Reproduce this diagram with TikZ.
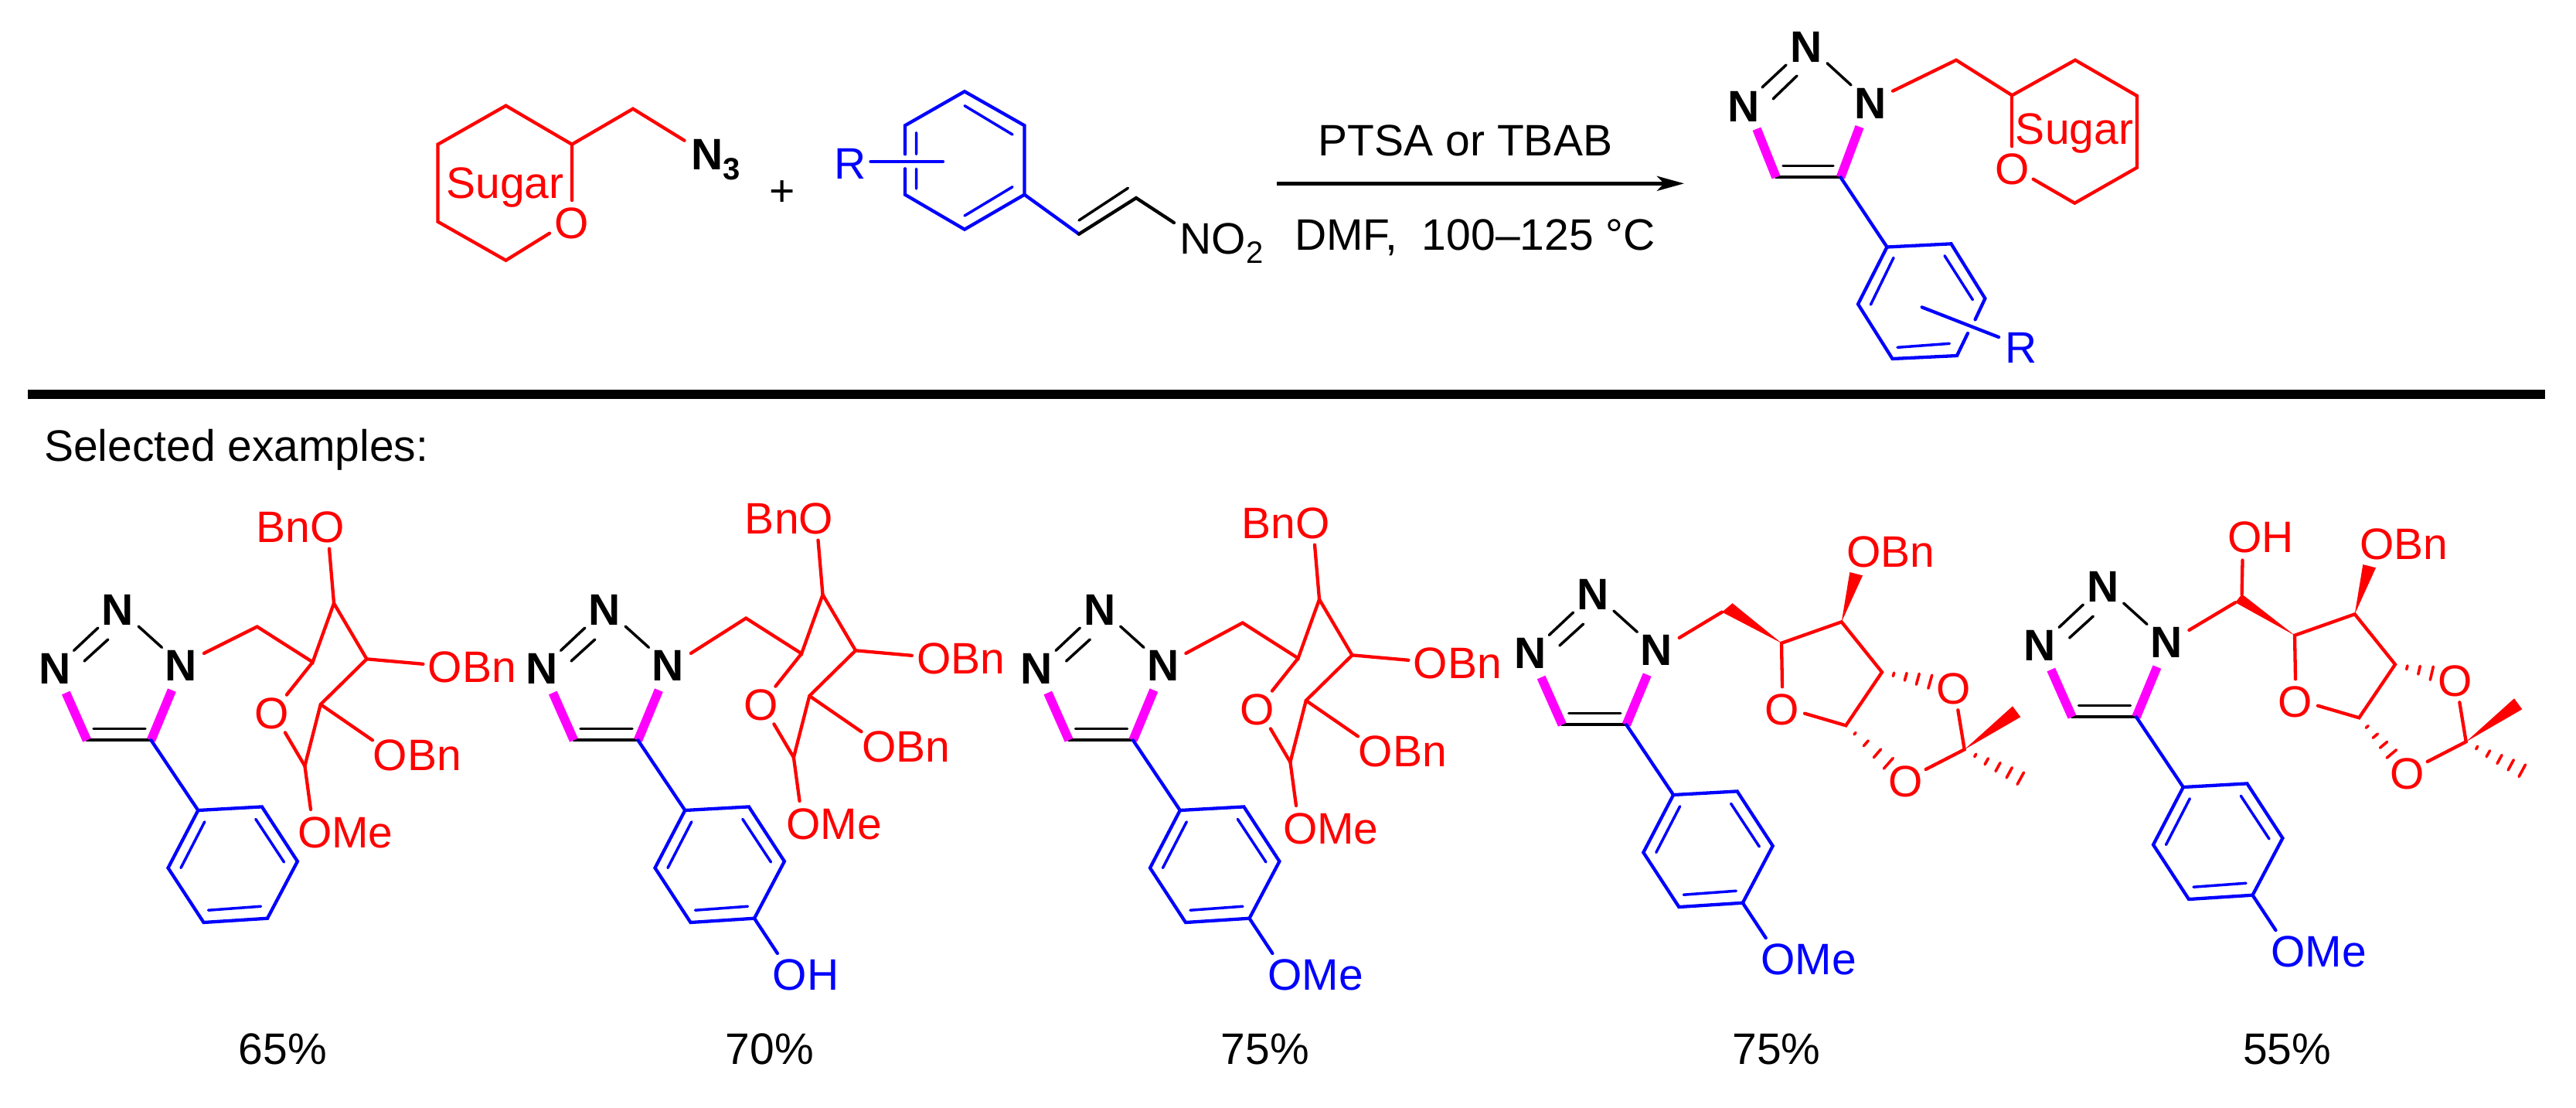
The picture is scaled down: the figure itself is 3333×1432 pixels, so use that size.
\documentclass[tikz,border=0pt]{standalone}
\usepackage{fontspec}
\setmainfont{Liberation Sans}
\usetikzlibrary{arrows.meta}
\definecolor{cred}{HTML}{FF0000}
\definecolor{cblue}{HTML}{0000FF}
\definecolor{cmag}{HTML}{FF00FF}
\tikzset{
  x=0.5pt,y=-0.5pt,
  bond/.style={line width=2.15pt,line cap=round,line join=miter},
  redb/.style={bond,draw=cred},
  blueb/.style={bond,draw=cblue},
  blackb/.style={bond,draw=black},
  bluei/.style={line width=1.75pt,line cap=round,draw=cblue},
  blacki/.style={line width=1.75pt,line cap=round,draw=black},
  magb/.style={line width=5.8pt,line cap=butt,draw=cmag},
  hashb/.style={line width=1.8pt,line cap=round,draw=cred},
  wedge/.style={fill=cred,draw=none},
  lab/.style={inner sep=0pt,outer sep=0pt,anchor=base,font=\fontsize{28.5}{34}\selectfont},
  bld/.style={lab,font=\fontsize{28.5}{34}\selectfont\bfseries},
  rlab/.style={lab,text=cred},
  blab/.style={lab,text=cblue}
}
% triazole + aryl, base coordinates = third compound
\newcommand{\triazAryl}[3]{%
\begin{scope}[shift={(#1,#2)}]
  \node[bld] (#3Nt) at (1422.8,808) {N};
  \node[bld] (#3Nl) at (1341.5,884) {N};
  \node[bld] (#3Nr) at (1505,880) {N};
  \coordinate (#3ex) at (1534.4,844.9);
  \coordinate (#3C4) at (1383,957.3);
  \coordinate (#3C5) at (1466,957.3);
  \coordinate (#3a1) at (1526.8,1048);
  \coordinate (#3a2) at (1609.4,1043.4);
  \coordinate (#3a3) at (1655.4,1114);
  \coordinate (#3a4) at (1616.5,1187.7);
  \coordinate (#3a5) at (1534,1193);
  \coordinate (#3a6) at (1488,1122.5);
  \draw[blacki] (1366,841.4)--(1397.3,812) (1379.5,855)--(1410.3,827) (1449.6,810)--(1480,837.4);
  \draw[blackb] (#3C4)--(#3C5);
  \draw[blacki] (1391.5,942.4)--(1458.5,942.4);
  \draw[magb] (1355.8,896)--(#3C4) (1492.9,892.6)--(#3C5);
  \draw[blueb] (#3C5)--(#3a1);
  \draw[blueb] (#3a1)--(#3a2)--(#3a3)--(#3a4)--(#3a5)--(#3a6)--cycle;
  \draw[bluei] (1535.3,1062.8)--(1504.5,1122.5) (1601.3,1059.3)--(1638,1115) (1540,1177.2)--(1608,1172.2);
\end{scope}}
\newcommand{\paraSub}[5]{%
\begin{scope}[shift={(#1,#2)}]
  \coordinate (#3s) at (1646.4,1233);
  \draw[blueb] (#3a4)--(#3s);
  \node[blab] (#3sub) at (#4,1280) {#5};
\end{scope}}
% pyranose, base coordinates = first compound
\newcommand{\pyranose}[3]{%
\begin{scope}[shift={(#1,#2)}]
  \coordinate (#3m) at (332.7,810.5);
  \coordinate (#3c5) at (404.6,856.3);
  \coordinate (#3c4) at (432,780.2);
  \coordinate (#3c3) at (474.5,852.3);
  \coordinate (#3c2) at (414.8,911);
  \coordinate (#3c1) at (394.4,990.6);
  \node[rlab] (#3O) at (352,942) {O};
  \node[rlab] (#3Oa) at (388.5,701) {BnO};
  \node[rlab] (#3Ob) at (611,882.7) {OBn};
  \node[rlab] (#3Oc) at (540,996.6) {OBn};
  \node[rlab] (#3Od) at (446.8,1096) {OMe};
  \draw[redb] (#3m)--(#3c5)--(#3c4)--(#3c3)--(#3c2)--(#3c1);
  \draw[redb] (#3c5)--(370.9,898.6) (368.9,947.4)--(#3c1);
  \draw[redb] (#3c4)--(426,709.6) (#3c3)--(547.4,858.8) (#3c2)--(482,957.3) (#3c1)--(402,1046.9);
\end{scope}}
% furanose ring, base coordinates = fourth compound
\newcommand{\furanose}[3]{%
\begin{scope}[shift={(#1,#2)}]
  \coordinate (#3c5) at (2305,831.7);
  \coordinate (#3c4) at (2382.7,804.3);
  \coordinate (#3c3) at (2435,869.3);
  \coordinate (#3c2) at (2388.3,938.3);
  \node[rlab] (#3O) at (2306,937.5) {O};
  \node[rlab] (#3Ob) at (2446.4,733.4) {OBn};
  \draw[redb] (2306,888.3)--(#3c5)--(#3c4)--(#3c3)--(#3c2)--(2335,922.7);
  \path[wedge] (#3c4)--(2393.3,740)--(2410,744.3)--cycle;
\end{scope}}
% dioxolane part, base coordinates = fourth compound
\newcommand{\dioxolane}[3]{%
\begin{scope}[shift={(#1,#2)}]
  \coordinate (#3ac) at (2541.7,969.3);
  \node[rlab] (#3Ou) at (2527.3,910) {O};
  \node[rlab] (#3Ol) at (2465.7,1030) {O};
  \draw[redb] (2533.3,918.3)--(#3ac)--(2491.7,995);
  \path[wedge] (#3ac)--(2604,913.3)--(2614.3,927.3)--cycle;
  \draw[hashb] (2555.7,977)+(1,-1.8)--+(-1,1.8);
  \draw[hashb] (2570.3,984.7)+(2.2,-3.9)--+(-2.2,3.9);
  \draw[hashb] (2585,992)+(3,-5.5)--+(-3,5.5);
  \draw[hashb] (2599.7,999.3)+(3.6,-6.6)--+(-3.6,6.6);
  \draw[hashb] (2614.3,1006.7)+(4.2,-7.7)--+(-4.2,7.7);
\end{scope}}
\begin{document}
\begin{tikzpicture}
\path[fill=white,use as bounding box] (0,0) rectangle (3333,1432);
% ---- left reactant
\coordinate (sa) at (654.5,136.7);
\coordinate (sb) at (566.5,186.7);
\coordinate (sc) at (566.5,286.7);
\coordinate (sd) at (654.5,336.7);
\coordinate (se) at (740,186.7);
\coordinate (sf) at (819,140.7);
\node[rlab] (sugarL) at (653.5,256) {Sugar};
\node[rlab] (sOL) at (740,308) {O};
\node[bld,anchor=base west] (azide) at (894.5,219) {N\raisebox{-6.85pt}{\fontsize{20}{24}\selectfont 3}};
\draw[redb] (711,301.7)--(sd)--(sc)--(sb)--(sa)--(se)--(740,259);
\draw[redb] (se)--(sf)--(885.5,181.7);
\node[lab] (plus) at (1012,266) {+};
% ---- nitrostyrene
\coordinate (ba) at (1248,118.3);
\coordinate (bb) at (1325.5,162.3);
\coordinate (bc) at (1325.5,251.7);
\coordinate (bd) at (1248,296.7);
\coordinate (be) at (1171,251.7);
\coordinate (bf) at (1171,162.3);
\coordinate (va) at (1396,302.7);
\coordinate (vb) at (1470,256);
\node[blab] (rL) at (1100,231.7) {R};
\node[lab,anchor=base west] (nitro) at (1526.5,328) {NO\raisebox{-6pt}{\fontsize{20}{24}\selectfont 2}};
\draw[blueb] (1171,199.3)--(bf)--(ba)--(bb)--(bc)--(bd)--(be)--(1171,218.3);
\draw[bluei] (1248,136.7)--(1310,174) (1310,241.7)--(1248,279) (1185.5,171.7)--(1185.5,199.3) (1185.5,218.3)--(1185.5,244);
\draw[blueb] (1126.5,209)--(1220,209);
\draw[blueb] (bc)--(va);
\draw[blackb] (va)--(vb)--(1519,288);
\draw[blacki] (1396,285)--(1459.4,243.3);
% ---- arrow
\coordinate (arS) at (1652,237.3);
\coordinate (arE) at (2179,237.3);
\draw[line width=2.5pt,-{Stealth[length=17.5pt,width=9.5pt,inset=4.5pt]}] (arS)--(arE);
\node[lab] (cond1) at (1896,201.7) {PTSA or TBAB};
\node[lab] (cond2) at (1908.5,323) {DMF,\ \ 100–125 °C};
% ---- product
\node[bld] (pNt) at (2337.5,80) {N};
\node[bld] (pNl) at (2256.5,157) {N};
\node[bld] (pNr) at (2420,153) {N};
\coordinate (pC4) at (2298,229.3);
\coordinate (pC5) at (2381.5,229.3);
\coordinate (pa1) at (2441.5,319.5);
\coordinate (pa2) at (2524.5,315.3);
\coordinate (pa3) at (2568.4,386);
\coordinate (pa4) at (2532,460);
\coordinate (pa5) at (2448.5,464);
\coordinate (pa6) at (2404,393.3);
\draw[blacki] (2280,113)--(2311,84) (2294,128)--(2325,98) (2364,81.7)--(2395,110);
\draw[blackb] (pC4)--(pC5);
\draw[blacki] (2307,214.3)--(2372,214.3);
\draw[magb] (2273,166.7)--(pC4) (2406,164)--(pC5);
\draw[blueb] (pC5)--(pa1);
\draw[blueb] (2555.6,413.3)--(pa3)--(pa2)--(pa1)--(pa6)--(pa5)--(pa4)--(2546,431);
\draw[bluei] (2450,333.3)--(2420.4,394) (2516,330.7)--(2552.4,387.7) (2455,449.3)--(2522.4,444.3);
\draw[blueb] (2486.7,397.3)--(2586,436);
\node[blab] (rR) at (2615,469.3) {R};
\coordinate (qa) at (2531,77.7);
\coordinate (qb) at (2603.3,123.3);
\coordinate (qc) at (2685,77.7);
\coordinate (qd) at (2765,124);
\coordinate (qe) at (2765,216.7);
\coordinate (qf) at (2684.3,262.7);
\node[rlab] (sugarR) at (2684,186) {Sugar};
\node[rlab] (sOR) at (2603.3,238.7) {O};
\draw[redb] (2449,117.7)--(qa)--(qb)--(qc)--(qd)--(qe)--(qf)--(2630.7,231.7);
\draw[redb] (qb)--(2603.3,189.3);
% ---- rule and heading
\coordinate (ruleL) at (36,510);
\coordinate (ruleR) at (3293,510);
\draw[line width=6.3pt] (ruleL)--(ruleR);
\node[lab,anchor=base west] (selex) at (57,596) {Selected examples:};
% ---- compound 1
\triazAryl{-1270.5}{0}{A}
\pyranose{0}{0}{F}
\draw[redb] (Aex)--(Fm);
\node[lab] (y1) at (366,1376) {65\%};
% ---- compound 2
\triazAryl{-640.5}{0}{B}
\paraSub{-640.5}{0}{B}{1683}{OH}
\pyranose{632.5}{-11}{G}
\draw[redb] (Bex)--(Gm);
\node[lab] (y2) at (996,1376) {70\%};
% ---- compound 3
\triazAryl{0}{0}{C}
\paraSub{0}{0}{C}{1702}{OMe}
\pyranose{1275}{-5}{H}
\draw[redb] (Cex)--(Hm);
\node[lab] (y3) at (1637,1376) {75\%};
% ---- compound 4
\triazAryl{638.3}{-20}{D}
\paraSub{638.3}{-20}{D}{1702}{OMe}
\furanose{0}{0}{J}
\dioxolane{0}{0}{K}
\coordinate (Jm) at (2228,791.6);
\draw[redb] (Dex)--(Jm);
\path[wedge] (Jm)--(2241.5,780.2)--(Jc5)--cycle;
\draw[hashb] (2450,872.3)+(.6,-2.2)--+(-.6,2.2);
\draw[hashb] (2465.7,875.3)+(1.3,-4.8)--+(-1.3,4.8);
\draw[hashb] (2481.3,878.3)+(1.9,-7)--+(-1.9,7);
\draw[hashb] (2497.3,881.7)+(2.4,-8.6)--+(-2.4,8.6);
\draw[hashb] (2400,948.7)+(1,-1.2)--+(-1,1.2);
\draw[hashb] (2414.3,961.3)+(3,-3.4)--+(-3,3.4);
\draw[hashb] (2429,974.3)+(4.6,-5.3)--+(-4.6,5.3);
\draw[hashb] (2443.3,987.3)+(6,-6.8)--+(-6,6.8);
\node[lab] (y4) at (2298.5,1376) {75\%};
% ---- compound 5
\triazAryl{1298}{-30}{E}
\paraSub{1298}{-30}{E}{1702}{OMe}
\furanose{664}{-10}{L}
\dioxolane{649}{-10}{M}
\coordinate (Lm) at (2892.2,779.2);
\coordinate (Lh) at (2900.6,768.3);
\draw[redb] (Eex)--(Lm);
\path[wedge] (Lm)--(Lh)--(Lc5)--cycle;
\node[rlab] (oh5) at (2925,714.5) {OH};
\draw[redb] (Lh)--(2901.5,724.5);
\draw[hashb] (3114.3,863.3)+(.6,-2.4)--+(-.6,2.4);
\draw[hashb] (3130,866.7)+(1.2,-5.3)--+(-1.2,5.3);
\draw[hashb] (3146.3,870.7)+(2,-8.6)--+(-2,8.6);
\draw[hashb] (3062.7,940)+(1.5,-1.3)--+(-1.5,1.3);
\draw[hashb] (3073.3,951.7)+(3.1,-2.6)--+(-3.1,2.6);
\draw[hashb] (3084,963.3)+(4.6,-3.9)--+(-4.6,3.9);
\draw[hashb] (3094.3,975)+(6.2,-5.2)--+(-6.2,5.2);
\node[lab] (y5) at (2959,1376) {55\%};
\end{tikzpicture}
\end{document}
